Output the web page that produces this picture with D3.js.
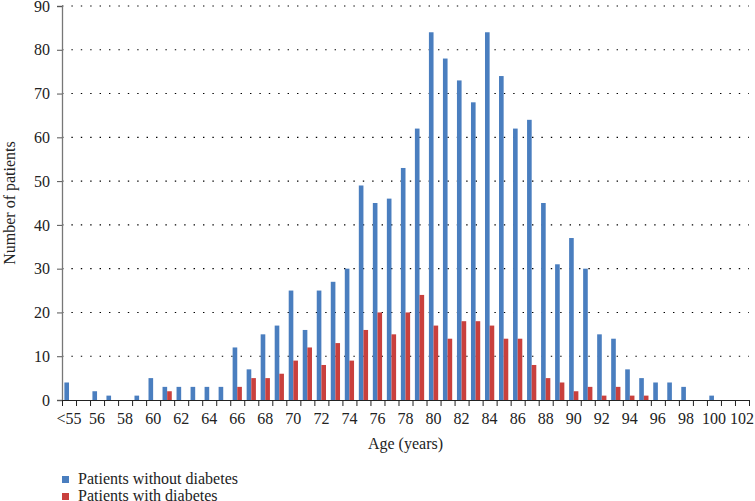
<!DOCTYPE html>
<html>
<head>
<meta charset="utf-8">
<script src="https://cdn.jsdelivr.net/npm/d3@7"></script>
<style>
  body { margin: 0; background: #fff; }
  svg { font-family: "Liberation Serif", "DejaVu Serif", serif; }
  .grid line { stroke: #000; stroke-dasharray: 1.4,8; stroke-width: 1.1; }
  .axis text { font-size: 16px; fill: #222; font-family: "Liberation Serif", serif; }
</style>
</head>
<body>
<div id="chart"></div>
<script>
  // age groups on x axis
  var categories = ["<55","55","56","57","58","59","60","61","62","63","64","65","66","67","68","69",
    "70","71","72","73","74","75","76","77","78","79","80","81","82","83","84","85","86","87","88","89",
    "90","91","92","93","94","95","96","97","98","99","100","101","102"];

  var seriesNames = ["Patients without diabetes", "Patients with diabetes"];
  var seriesColors = ["#4a7ebf", "#c9403d"];

  var withoutDiabetes = [4,0,2,1,0,1,5,3,3,3,3,3,12,7,15,17,25,16,25,27,30,49,45,46,53,62,84,78,73,68,
    84,74,62,64,45,31,37,30,15,14,7,5,4,4,3,0,1,0,0];
  var withDiabetes = [0,0,0,0,0,0,0,2,0,0,0,0,3,5,5,6,9,12,8,13,9,16,20,15,20,24,17,14,18,18,
    17,14,14,8,5,4,2,3,1,3,1,1,0,0,0,0,0,0,0];

  var yTicks = [0,10,20,30,40,50,60,70,80,90];

  var width = 755, height = 501;
  var margin = {top: 6, right: 6, bottom: 101, left: 62};
  var plotW = width - margin.left - margin.right,
      plotH = height - margin.top - margin.bottom;

  var svg = d3.select("#chart").append("svg")
      .attr("width", width)
      .attr("height", height);

  var g = svg.append("g")
      .attr("transform", "translate(" + margin.left + "," + margin.top + ")");

  //scales
  var x = d3.scaleBand().domain(categories).range([0, plotW]);
  var bw = x.bandwidth();
  var x1 = d3.scaleBand().domain(seriesNames).range([bw * 0.17, bw * 0.83]);
  var y = d3.scaleLinear().domain([0, 90]).range([plotH, 0]);

  //dotted gridlines
  g.append("g").attr("class", "grid")
    .selectAll("line")
    .data(yTicks.filter(function(d) { return d > 0; }))
    .enter().append("line")
      .attr("x1", 0).attr("x2", plotW)
      .attr("y1", function(d) { return y(d); })
      .attr("y2", function(d) { return y(d); });

  //bars
  var data = [withoutDiabetes, withDiabetes];
  data.forEach(function(vals, si) {
    g.append("g").selectAll("rect")
      .data(vals)
      .enter().append("rect")
        .attr("x", function(d, i) { return x(categories[i]) + x1(seriesNames[si]); })
        .attr("width", x1.bandwidth())
        .attr("y", function(d) { return y(d); })
        .attr("height", function(d) { return plotH - y(d); })
        .attr("fill", seriesColors[si]);
  });

  //y axis
  var yAxis = d3.axisLeft(y).tickValues(yTicks).tickSize(5).tickPadding(7);
  var yg = g.append("g").attr("class", "axis").call(yAxis);
  yg.select(".domain").attr("stroke", "#777").attr("stroke-width", 1.3);
  yg.selectAll(".tick line").attr("stroke", "#555");

  //x axis: tick marks at category boundaries
  var xb = d3.scaleLinear().domain([0, categories.length]).range([0, plotW]);
  var xTickAxis = d3.axisBottom(xb).tickValues(d3.range(categories.length + 1))
      .tickSize(6).tickSizeOuter(0).tickFormat("");
  var xg = g.append("g").attr("class", "axis")
      .attr("transform", "translate(0," + plotH + ")")
      .call(xTickAxis);
  xg.select(".domain").attr("stroke", "#222").attr("stroke-width", 1.2);
  xg.selectAll(".tick line").attr("stroke", "#222");

  //x labels every other category
  var xLabelAxis = d3.axisBottom(x)
      .tickValues(categories.filter(function(d, i) { return i % 2 === 0; }))
      .tickSize(0).tickPadding(13);
  var xl = g.append("g").attr("class", "axis")
      .attr("transform", "translate(0," + plotH + ")")
      .call(xLabelAxis);
  xl.select(".domain").remove();

  //axis titles
  svg.append("text")
    .attr("x", margin.left + plotW / 2)
    .attr("y", 449)
    .attr("text-anchor", "middle")
    .attr("font-size", 16)
    .attr("fill", "#222")
    .text("Age (years)");

  svg.append("text")
    .attr("transform", "translate(15," + (margin.top + plotH / 2) + ") rotate(-90)")
    .attr("text-anchor", "middle")
    .attr("font-size", 16)
    .attr("fill", "#222")
    .text("Number of patients");

  //legend
  var legend = svg.append("g").selectAll("g")
    .data(seriesNames)
    .enter().append("g")
      .attr("transform", function(d, i) { return "translate(62," + (476 + i * 17) + ")"; });

  legend.append("rect")
    .attr("width", 7).attr("height", 7)
    .attr("fill", function(d, i) { return seriesColors[i]; });

  legend.append("text")
    .attr("x", 16).attr("y", 7.5)
    .attr("font-size", 16)
    .attr("fill", "#222")
    .text(function(d) { return d; });
</script>
</body>
</html>
